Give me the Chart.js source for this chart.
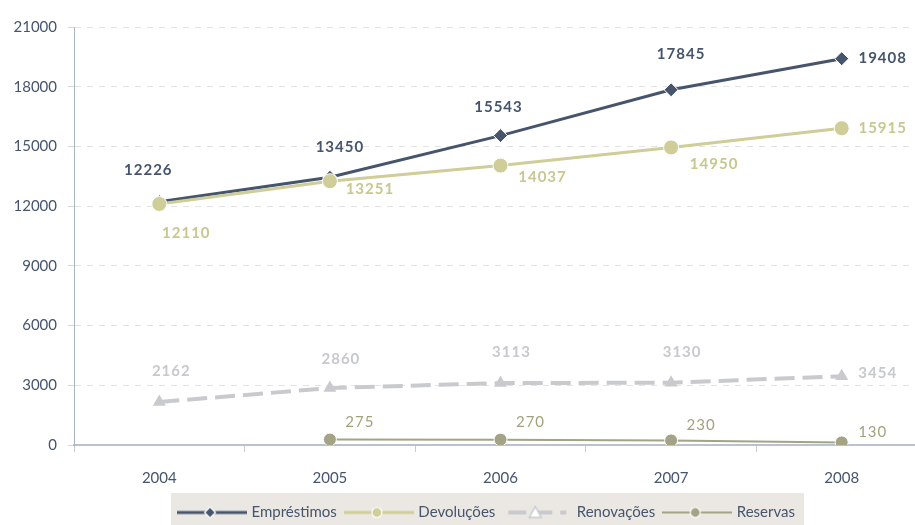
<!DOCTYPE html>
<html>
<head>
<meta charset="utf-8">
<script src="https://cdn.jsdelivr.net/npm/chart.js@4.4.1/dist/chart.umd.min.js"></script>
<style>
  html, body { margin: 0; padding: 0; background: #fff; }
  #wrap { width: 915px; height: 525px; overflow: hidden; position: relative; }
  #chart { position: absolute; left: 0; top: 0; }
</style>
</head>
<body>
<div id="wrap">
  <canvas id="chart" width="940" height="530"></canvas>
</div>
<script>
// dados
const anos = ['2004', '2005', '2006', '2007', '2008'];
const emprestimos = [12226, 13450, 15543, 17845, 19408];
const devolucoes = [12110, 13251, 14037, 14950, 15915];
const renovacoes = [2162, 2860, 3113, 3130, 3454];
const reservas = [null, 275, 270, 230, 130];
const yTicks = [0, 3000, 6000, 9000, 12000, 15000, 18000, 21000];

const FONT = 'Lato, "DejaVu Sans", sans-serif';
const cores = {
    emp: '#46556c',
    dev: '#cfcd98',
    ren: '#c8cace',
    res: '#a4a386'
};

// deslocamento dos rótulos de valor em relação ao ponto
const rotulos = [
    { color: '#46556c', weight: 'bold', offsets: [[-11, -31], [10, -30], [-2, -28], [10, -36], [41, -1]] },
    { color: '#c9c790', weight: 'bold', offsets: [[27, 29], [40, 8], [42, 12], [43, 17], [41, 0]] },
    { color: '#c6c9cd', weight: 'bold', offsets: [[12, -31], [11, -29], [11, -31], [11, -31], [36, -3]] },
    { color: '#a3a27f', weight: 'normal', offsets: [null, [30, -17], [30, -17], [30, -15], [31, -10]] }
];

// ícones da legenda (linha + marcador)
function legendIcon(color, lineWidth, marker, dash) {
    const c = document.createElement('canvas');
    c.width = 70;
    c.height = 16;
    const g = c.getContext('2d');
    g.strokeStyle = color;
    g.lineWidth = lineWidth;
    if (dash) g.setLineDash(dash);
    g.beginPath();
    g.moveTo(dash ? 6 : 0, 8);
    g.lineTo(dash ? 64 : 70, 8);
    g.stroke();
    g.setLineDash([]);
    const cx = 33, cy = 8;
    g.beginPath();
    if (marker === 'diamond') {
        g.moveTo(cx, cy - 5.5); g.lineTo(cx + 5.5, cy); g.lineTo(cx, cy + 5.5); g.lineTo(cx - 5.5, cy);
        g.closePath();
        g.fillStyle = color; g.fill();
        g.strokeStyle = '#fff'; g.lineWidth = 1.2; g.stroke();
    } else if (marker === 'triangle') {
        g.moveTo(cx, cy - 6); g.lineTo(cx + 6, cy + 5); g.lineTo(cx - 6, cy + 5);
        g.closePath();
        g.fillStyle = '#fff'; g.fill();
        g.strokeStyle = color; g.lineWidth = 1.5; g.stroke();
    } else {
        g.arc(cx, cy, 5, 0, Math.PI * 2);
        g.fillStyle = color; g.fill();
        g.strokeStyle = '#fff'; g.lineWidth = 1.2; g.stroke();
    }
    return c;
}

const icones = [
    legendIcon(cores.emp, 3, 'diamond'),
    legendIcon(cores.dev, 3, 'circle'),
    legendIcon(cores.ren, 4, 'triangle', [18, 8]),
    legendIcon(cores.res, 2, 'circle')
];

// legenda deslocada para a direita + fundo
const legendBg = {
    id: 'legendBg',
    afterLayout(chart) {
        if (!chart.legend) return;
        chart.legend.left += 24;
        chart.legend.right += 24;
    },
    beforeDraw(chart) {
        const boxes = chart.legend && chart.legend.legendHitBoxes;
        if (!boxes || !boxes.length) return;
        const first = boxes[0];
        const last = boxes[boxes.length - 1];
        const ctx = chart.ctx;
        ctx.save();
        ctx.fillStyle = '#ebe8e4';
        ctx.fillRect(first.left - 9, first.top - 12, last.left + last.width - first.left + 18, chart.height);
        ctx.restore();
    }
};

// rótulos de valor
const valueLabels = {
    id: 'valueLabels',
    afterDatasetsDraw(chart) {
        const ctx = chart.ctx;
        ctx.save();
        ctx.textAlign = 'center';
        ctx.textBaseline = 'middle';
        chart.data.datasets.forEach((ds, i) => {
            const meta = chart.getDatasetMeta(i);
            const cfg = rotulos[i];
            ctx.fillStyle = cfg.color;
            ctx.font = cfg.weight + ' 15px ' + FONT;
            ctx.letterSpacing = '1px';
            meta.data.forEach((pt, j) => {
                const v = ds.data[j];
                const off = cfg.offsets[j];
                if (v === null || !off) return;
                ctx.fillText(String(v), pt.x + off[0], pt.y + off[1]);
            });
        });
        ctx.restore();
    }
};

new Chart(document.getElementById('chart'), {
    type: 'line',
    data: {
        labels: anos,
        datasets: [
            {
                label: 'Empréstimos',
                data: emprestimos,
                borderColor: cores.emp,
                backgroundColor: cores.emp,
                borderWidth: 3,
                pointStyle: 'rectRot',
                pointRadius: 7,
                pointBorderColor: '#fff',
                pointBorderWidth: 1,
                order: 1
            },
            {
                label: 'Devoluções',
                data: devolucoes,
                borderColor: cores.dev,
                backgroundColor: cores.dev,
                borderWidth: 3,
                pointStyle: 'circle',
                pointRadius: 7.5,
                pointBorderColor: '#fff',
                pointBorderWidth: 1,
                order: 0
            },
            {
                label: 'Renovações',
                data: renovacoes,
                borderColor: cores.ren,
                backgroundColor: cores.ren,
                borderWidth: 4,
                borderDash: [20, 8],
                pointStyle: 'triangle',
                pointRadius: 7.5,
                pointBorderWidth: 0,
                order: 2
            },
            {
                label: 'Reservas',
                data: reservas,
                borderColor: cores.res,
                backgroundColor: cores.res,
                borderWidth: 2,
                pointStyle: 'circle',
                pointRadius: 6.5,
                pointBorderColor: '#fff',
                pointBorderWidth: 1,
                order: 3
            }
        ]
    },
    options: {
        responsive: false,
        animation: false,
        layout: { padding: { left: 0, top: 27, right: 13, bottom: 0 } },
        plugins: {
            tooltip: { enabled: false },
            legend: {
                position: 'bottom',
                labels: {
                    usePointStyle: true,
                    pointStyleWidth: 64,
                    padding: 10,
                    color: '#46556c',
                    font: { family: FONT, size: 15 },
                    generateLabels(chart) {
                        return chart.data.datasets.map((ds, i) => ({
                            text: ds.label,
                            pointStyle: icones[i],
                            fillStyle: ds.borderColor,
                            strokeStyle: ds.borderColor,
                            lineWidth: 0,
                            fontColor: '#46556c',
                            hidden: false,
                            datasetIndex: i
                        }));
                    }
                }
            }
        },
        scales: {
            x: {
                offset: true,
                grid: {
                    offset: true,
                    drawOnChartArea: false,
                    tickLength: 7,
                    color: '#c5ccd5'
                },
                border: { color: '#b9c2cd', width: 2 },
                ticks: {
                    color: '#46556c',
                    padding: 17,
                    font: { family: FONT, size: 15 }
                },
                afterFit(scale) { scale.height = 50; }
            },
            y: {
                min: 0,
                max: 21000,
                afterBuildTicks(scale) { scale.ticks = yTicks.map(v => ({ value: v })); },
                grid: {
                    color: '#e3e3e3',
                    tickColor: '#d3d8df',
                    tickLength: 6,
                    tickBorderDash: [],
                    lineWidth: 1
                },
                border: { color: '#aab4c3', width: 1, dash: [6, 6] },
                ticks: {
                    color: '#46556c',
                    padding: 11,
                    font: { family: FONT, size: 15 },
                    callback: (value) => String(value)
                },
                afterFit(scale) { scale.width = 74; }
            }
        }
    },
    plugins: [legendBg, valueLabels]
});
</script>
</body>
</html>
